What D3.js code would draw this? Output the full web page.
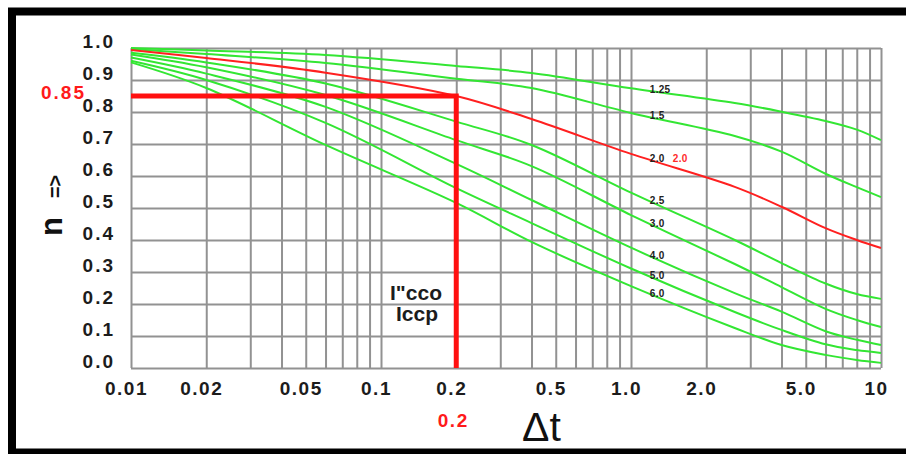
<!DOCTYPE html>
<html>
<head>
<meta charset="utf-8">
<script src="https://cdn.jsdelivr.net/npm/d3@7"></script>
<style>
  body { margin: 0; background: #fff; }
  svg { display: block; font-family: "Liberation Sans", Arial, sans-serif; }
</style>
</head>
<body>
<script>
// valores (dt en escala log)
const dt = [0.01, 0.02, 0.06, 0.2, 0.4, 1, 2.6, 4, 6, 8, 10];
const n125 = [1.0, 0.992, 0.978, 0.944, 0.922, 0.874, 0.828, 0.801, 0.772, 0.745, 0.712];
const n15 = [0.997, 0.981, 0.953, 0.904, 0.875, 0.797, 0.725, 0.676, 0.607, 0.565, 0.534];
const n20 = [0.994, 0.969, 0.923, 0.85, 0.778, 0.669, 0.566, 0.504, 0.437, 0.40, 0.375];
const n25 = [0.985, 0.955, 0.889, 0.77, 0.697, 0.548, 0.400, 0.328, 0.264, 0.231, 0.216];
const n30 = [0.98, 0.94, 0.853, 0.712, 0.631, 0.478, 0.325, 0.253, 0.185, 0.15, 0.128];
const n40 = [0.97, 0.92, 0.816, 0.638, 0.525, 0.376, 0.234, 0.176, 0.115, 0.088, 0.072];
const n50 = [0.96, 0.90, 0.766, 0.562, 0.453, 0.311, 0.175, 0.119, 0.074, 0.056, 0.047];
const n60 = [0.955, 0.875, 0.697, 0.516, 0.394, 0.256, 0.125, 0.072, 0.041, 0.025, 0.016];

const curveNames = ["1.25", "1.5", "2.0", "2.5", "3.0", "4.0", "5.0", "6.0"];
const curveValues = [n125, n15, n20, n25, n30, n40, n50, n60];
const redCurve = "2.0";

const xTickVals = [0.01, 0.02, 0.05, 0.1, 0.2, 0.5, 1, 2, 5, 10];
const xTickLabels = ["0.01", "0.02", "0.05", "0.1", "0.2", "0.5", "1.0", "2.0", "5.0", "10"];
const yTickVals = [0, 0.1, 0.2, 0.3, 0.4, 0.5, 0.6, 0.7, 0.8, 0.9, 1.0];

// punto marcado
const markDt = 0.2;
const markN = 0.85;

function graficar() {
  let w = 906;
  let h = 454;
  let svg = d3.select("body").append("svg").attr("width", w).attr("height", h);

  let x = d3.scaleLog().domain([0.01, 10]).range([131, 881]);
  let y = d3.scaleLinear().domain([0, 1]).range([368, 48]);

  svg.append("rect").attr("width", w).attr("height", h).attr("fill", "#fff");

  // rejilla vertical (1..9 por decada)
  let gx = svg.append("g")
    .attr("transform", "translate(0," + y(0) + ")")
    .call(d3.axisBottom(x).tickValues(x.ticks()).tickSize(-(y(0) - y(1))).tickFormat(""));
  gx.select(".domain").remove();
  gx.selectAll("line").attr("stroke", "#929292").attr("stroke-width", 2);

  // rejilla horizontal
  let gy = svg.append("g")
    .attr("transform", "translate(" + x(0.01) + ",0)")
    .call(d3.axisLeft(y).tickValues(yTickVals).tickSize(-(x(10) - x(0.01))).tickFormat(""));
  gy.select(".domain").remove();
  gy.selectAll("line").attr("stroke", "#929292").attr("stroke-width", 2);

  // curvas
  let linea = d3.line()
    .x(function (d) { return x(d[0]); })
    .y(function (d) { return y(d[1]); })
    .curve(d3.curveCatmullRom.alpha(0.5));

  let series = curveNames.map(function (name, i) {
    return { name: name, pts: dt.map(function (t, j) { return [t, curveValues[i][j]]; }) };
  });

  // verdes primero, la roja encima
  series.sort(function (a, b) { return (a.name === redCurve) - (b.name === redCurve); });

  svg.selectAll("path.curva")
    .data(series)
    .enter()
    .append("path")
    .attr("class", "curva")
    .attr("d", function (d) { return linea(d.pts); })
    .attr("fill", "none")
    .attr("stroke", function (d) { return d.name === redCurve ? "#ff2020" : "#33e633"; })
    .attr("stroke-width", 2);

  // lineas rojas gruesas del punto leido
  svg.append("path")
    .attr("d", "M" + x(0.01) + "," + y(markN) + "H" + x(markDt) + "V" + y(0))
    .attr("fill", "none")
    .attr("stroke", "#ff1010")
    .attr("stroke-width", 5);

  // etiquetas de los ejes
  let ax = svg.append("g")
    .attr("transform", "translate(0," + y(0) + ")")
    .call(d3.axisBottom(x).tickValues(xTickVals).tickSize(0)
      .tickFormat(function (d, i) { return xTickLabels[i]; }));
  ax.select(".domain").remove();
  ax.selectAll("text")
    .attr("y", 27).attr("dy", 0).attr("dx", -5)
    .attr("font-size", 19).attr("font-weight", "bold")
    .attr("letter-spacing", "1.5px")
    .attr("font-family", "Liberation Sans, Arial, sans-serif")
    .attr("fill", "#1c1c1c");

  let ay = svg.append("g")
    .attr("transform", "translate(" + x(0.01) + ",0)")
    .call(d3.axisLeft(y).tickValues(yTickVals).tickSize(0).tickFormat(d3.format(".1f")));
  ay.select(".domain").remove();
  ay.selectAll("text")
    .attr("x", -16).attr("dy", -1)
    .attr("font-size", 19).attr("font-weight", "bold")
    .attr("letter-spacing", "2px")
    .attr("font-family", "Liberation Sans, Arial, sans-serif")
    .attr("fill", "#1c1c1c");

  // valores marcados en rojo
  svg.append("text")
    .text(markN)
    .attr("x", 86).attr("y", y(markN) + 3)
    .attr("text-anchor", "end")
    .attr("font-size", 19).attr("font-weight", "bold").attr("letter-spacing", "2px")
    .attr("fill", "#ff1a1a");

  svg.append("text")
    .text(markDt)
    .attr("x", x(markDt) - 3).attr("y", 427)
    .attr("text-anchor", "middle")
    .attr("font-size", 19).attr("font-weight", "bold").attr("letter-spacing", "1.5px")
    .attr("fill", "#ff1a1a");

  // etiquetas de las curvas, sobre cada curva en dt = 1.2
  function valor(vals, t) {
    let lt = Math.log10(t);
    for (let j = 1; j < dt.length; j++) {
      if (t <= dt[j]) {
        let a = Math.log10(dt[j - 1]), b = Math.log10(dt[j]);
        return vals[j - 1] + (vals[j] - vals[j - 1]) * (lt - a) / (b - a);
      }
    }
    return vals[vals.length - 1];
  }
  let tLab = 1.2;
  svg.selectAll("text.curvalab")
    .data(curveNames)
    .enter()
    .append("text")
    .attr("class", "curvalab")
    .text(function (d) { return d; })
    .attr("x", x(tLab) - 1)
    .attr("y", function (d, i) { return y(valor(curveValues[i], 1.24)) + 1; })
    .attr("font-size", 10).attr("font-weight", "bold").attr("letter-spacing", "0.3px")
    .attr("fill", "#222");

  let iRed = curveNames.indexOf(redCurve);
  svg.append("text")
    .text(redCurve)
    .attr("x", x(tLab) + 22)
    .attr("y", y(valor(curveValues[iRed], 1.24)) + 1)
    .attr("font-size", 10).attr("font-weight", "bold").attr("letter-spacing", "0.3px")
    .attr("fill", "#ff2a2a");

  // texto I"cco / Iccp
  svg.append("text")
    .text("I\"cco")
    .attr("x", 416).attr("y", 300)
    .attr("text-anchor", "middle")
    .attr("font-size", 21).attr("font-weight", "bold")
    .attr("fill", "#1c1c1c");
  svg.append("text")
    .text("Iccp")
    .attr("x", 417).attr("y", 321)
    .attr("text-anchor", "middle")
    .attr("font-size", 21).attr("font-weight", "bold")
    .attr("fill", "#1c1c1c");

  // titulo eje x
  svg.append("text")
    .text("\u0394t")
    .attr("x", 522).attr("y", 441)
    .attr("font-size", 41)
    .attr("fill", "#111");

  // titulo eje y (girado)
  let ty = svg.append("text")
    .attr("transform", "translate(62,236) rotate(-90)")
    .attr("font-weight", "bold")
    .attr("fill", "#111");
  ty.append("tspan").text("n").attr("font-size", 31);
  ty.append("tspan").text("=>").attr("dx", 19).attr("font-size", 20);

  // marco negro
  svg.append("rect")
    .attr("x", 12).attr("y", 11.5)
    .attr("width", 1000).attr("height", 441)
    .attr("fill", "none")
    .attr("stroke", "#000")
    .attr("stroke-width", 8);
}

graficar();
</script>
</body>
</html>
